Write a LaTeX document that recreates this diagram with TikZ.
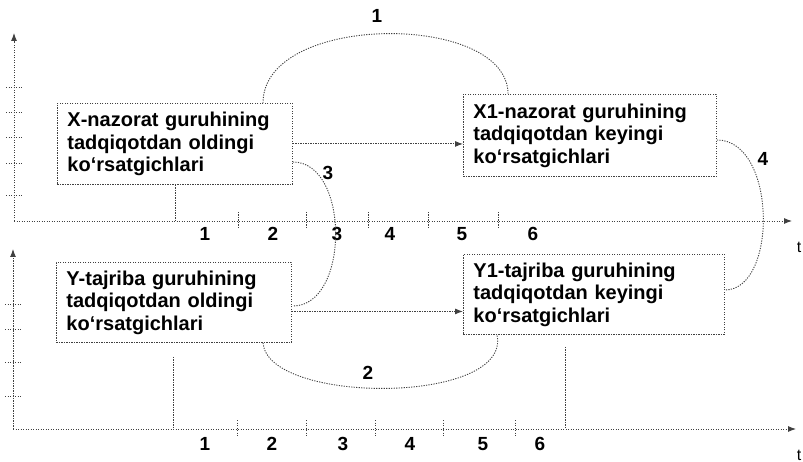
\documentclass[tikz,border=0pt]{standalone}
\usepackage{fontspec}
\setmainfont{Liberation Sans}
\usetikzlibrary{arrows.meta, calc}

\begin{document}
\begin{tikzpicture}[x=1pt, y=-1pt,
  box/.style={draw=black!75, dash pattern=on 1.2pt off 1.3pt, line width=0.9pt, anchor=north west, inner xsep=10pt, inner ysep=0pt, align=left, font=\fontsize{20}{22.5}\selectfont\bfseries, text=black},
  dline/.style={draw=black!75, line width=0.9pt, dash pattern=on 1.2pt off 1.3pt},
  num/.style={font=\fontsize{19}{19}\selectfont\bfseries, text=black},
  tip/.style={-{Latex[length=8pt, width=6pt]}}]
  \useasboundingbox (0,0) rectangle (803,462);

  % Top axes
  \coordinate (o1) at (14,221);
  \coordinate (t1) at (792,221);
  \coordinate (v1) at (14,33);
  \draw[dline, tip] (o1) -- (t1);
  \draw[dline, tip] (o1) -- (v1);
  \foreach \x in {238,306,368,428,498} \draw[dline] (\x,212) -- (\x,229);
  \foreach \y in {87,112,137,163,195} \draw[dline] (6,\y) -- (23,\y);
  \foreach \x/\n in {205/1,273/2,337/3,390/4,462/5,533/6}
    \node[num] (ta\n) at (\x,234) {\n};
  \node[font=\fontsize{16}{16}\selectfont] (tlab1) at (799,247) {t};

  % Bottom axes
  \coordinate (o2) at (13,429);
  \coordinate (t2) at (796,429);
  \coordinate (v2) at (13,249);
  \draw[dline, tip] (o2) -- (t2);
  \draw[dline, tip] (o2) -- (v2);
  \foreach \x in {237,306,375,443,515} \draw[dline] (\x,420) -- (\x,437);
  \foreach \y in {304,329,362,396} \draw[dline] (5,\y) -- (22,\y);
  \foreach \x/\n in {205/1,272/2,343/3,410/4,483/5,540/6}
    \node[num] (tb\n) at (\x,444) {\n};
  \node[font=\fontsize{16}{16}\selectfont] (tlab2) at (799,455) {t};

  % Groups
  \node[box, minimum width=235pt, minimum height=81pt, text width=215pt] (xbox) at (57,103) {X-nazorat guruhining\\tadqiqotdan oldingi\\ko‘rsatgichlari};
  \node[box, minimum width=253pt, minimum height=82pt, text width=233pt] (x1box) at (463,94) {X1-nazorat guruhining\\tadqiqotdan keyingi\\ko‘rsatgichlari};
  \node[box, minimum width=235pt, minimum height=80pt, text width=215pt] (ybox) at (56,262) {Y-tajriba guruhining\\tadqiqotdan oldingi\\ko‘rsatgichlari};
  \node[box, minimum width=261pt, minimum height=80pt, text width=241pt] (y1box) at (463,254) {Y1-tajriba guruhining\\tadqiqotdan keyingi\\ko‘rsatgichlari};

  % Drops to the time axes
  \draw[dline] (xbox.south) -- (xbox.south |- o1);
  \draw[dline] ($(x1box.south)+(-22,0)$) -- ($(x1box.south)+(-22,0)$ |- o1);
  \coordinate (ydrop) at ($(ybox.south)+(-1,14)$);
  \draw[dline] (ydrop) -- (ydrop |- o2);
  \coordinate (y1drop) at ($(y1box.south)+(-29,12)$);
  \draw[dline] (y1drop) -- (y1drop |- o2);

  % Before -> after
  \draw[dline, tip] (xbox.east) -- (xbox.east -| x1box.west);
  \coordinate (yout) at ($(ybox.east)+(0,9)$);
  \draw[dline, tip] (yout) -- (yout -| y1box.west);

  % Comparisons
  \draw[dline] ($(xbox.north west)+(206,0)$) .. controls +(0,-91) and +(0,-82) .. ($(x1box.north west)+(45,0)$);
  \node[num] (c1) at (377,16) {1};
  \draw[dline] ($(ybox.south west)+(207,0)$) .. controls +(5,62) and +(15,70) .. ($(y1box.south west)+(34,0)$);
  \node[num] (c2) at (368,373) {2};
  \draw[dline] ($(xbox.north east)+(0,59)$) .. controls +(57,0) and +(57,0) .. ($(ybox.north east)+(1,44)$);
  \node[num] (c3) at (328,173) {3};
  \draw[dline] ($(x1box.north east)+(0,46)$) .. controls +(60,0) and +(53,0) .. ($(y1box.north east)+(0,36)$);
  \node[num] (c4) at (763,159) {4};
\end{tikzpicture}
\end{document}
